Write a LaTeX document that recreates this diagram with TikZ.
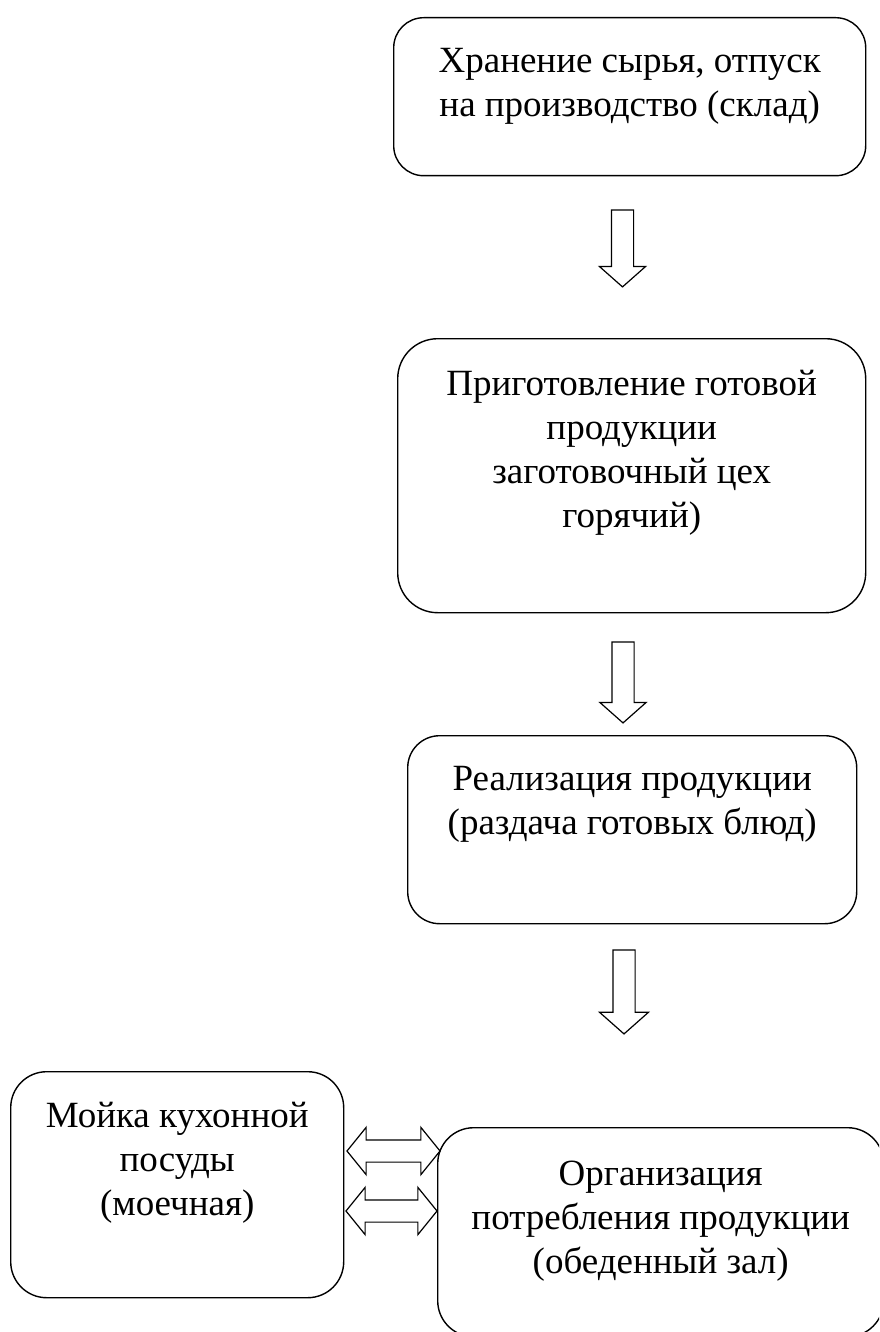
\documentclass[tikz,border=0pt]{standalone}
\usepackage{fontspec}
\setmainfont{Liberation Serif}
\usepackage{tikz}
\usetikzlibrary{arrows.meta,positioning,calc,shapes.arrows}

\begin{document}
\begin{tikzpicture}[x=1pt,y=-1pt,
  box/.style={draw,line width=1.4pt,rounded corners=32pt,anchor=north west,inner sep=0pt},
  txt/.style={align=center,anchor=north,inner sep=0pt,font=\fontsize{37}{44}\selectfont},
  down/.style={single arrow,draw,line width=1.2pt,fill=white,rotate=-90,inner xsep=0pt,inner ysep=10.5pt,single arrow head extend=12pt,single arrow tip angle=97},
  both/.style={double arrow,draw,line width=1.2pt,fill=white,inner xsep=0pt,inner ysep=10.5pt,double arrow head extend=12.5pt,double arrow tip angle=102}]
\useasboundingbox (0,0) rectangle (879,1332);
\clip (0,0) rectangle (879,1332);
% boxes
\node[box,minimum width=472pt,minimum height=158pt,rounded corners=30pt] (store) at (393,17) {};
\node[box,minimum width=468pt,minimum height=274pt,rounded corners=40pt] (cook) at (397,338) {};
\node[box,minimum width=449pt,minimum height=188pt] (serve) at (407,735) {};
\node[box,minimum width=333pt,minimum height=226pt,rounded corners=36pt] (wash) at (10,1071) {};
\node[box,minimum width=446pt,minimum height=209pt,rounded corners=36pt] (hall) at (437,1127) {};
% texts
\node[txt] (storetxt) at ($(store.north)+(0,31)$) {Хранение сырья, отпуск\\на производство (склад)};
\node[txt] (cooktxt) at ($(cook.north)+(0,32)$) {Приготовление готовой\\продукции\\заготовочный цех\\горячий)};
\node[txt] (servetxt) at ($(serve.north)+(0,31)$) {Реализация продукции\\(раздача готовых блюд)};
\node[txt] (washtxt) at ($(wash.north)+(0,31)$) {Мойка кухонной\\посуды\\(моечная)};
\node[txt] (halltxt) at ($(hall.north)+(0,34)$) {Организация\\потребления продукции\\(обеденный зал)};
% arrows
\node[down,minimum height=77pt] (a1) at (622.5,243.5) {};
\node[down,minimum height=81pt] (a2) at (623,677.5) {};
\node[down,minimum height=84pt,single arrow head extend=13.5pt] (a3) at (624,987) {};
\node[both,minimum height=93pt] (b1) at (393.5,1151) {};
\node[both,minimum height=91pt] (b2) at (391.5,1211) {};
\end{tikzpicture}
\end{document}
